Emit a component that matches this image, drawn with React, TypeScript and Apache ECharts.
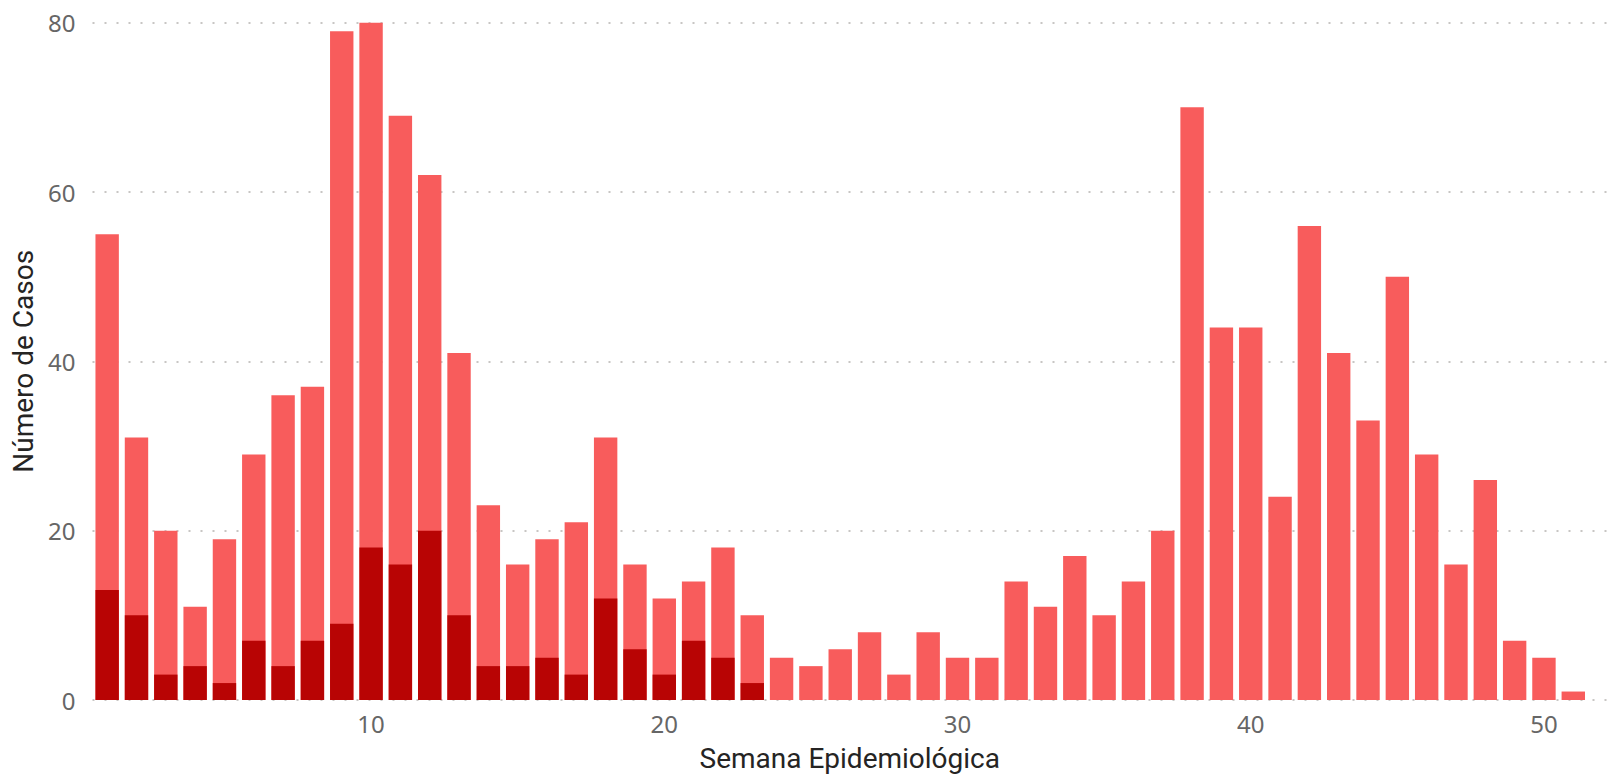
import React, { useEffect, useRef } from "react";
import * as echarts from "echarts";

const semanas: number[] = Array.from({ length: 51 }, (_, i) => i + 1);
const totalCasos: number[] = [
  55, 31, 20, 11, 19, 29, 36, 37, 79, 80,
  69, 62, 41, 23, 16, 19, 21, 31, 16, 12,
  14, 18, 10, 5, 4, 6, 8, 3, 8, 5,
  5, 14, 11, 17, 10, 14, 20, 70, 44, 44,
  24, 56, 41, 33, 50, 29, 16, 26, 7, 5,
  1,
];
const casosSubgrupo: number[] = [
  13, 10, 3, 4, 2, 7, 4, 7, 9, 18,
  16, 20, 10, 4, 4, 5, 3, 12, 6, 3,
  7, 5, 2, 0, 0, 0, 0, 0, 0, 0,
  0, 0, 0, 0, 0, 0, 0, 0, 0, 0,
  0, 0, 0, 0, 0, 0, 0, 0, 0, 0,
  0,
];
const xTickLabels: number[] = [10, 20, 30, 40, 50];

export default function App() {
  const ref = useRef<HTMLDivElement>(null);
  useEffect(() => {
    if (!ref.current) return;
    const chart = echarts.init(ref.current, null, { renderer: "svg" });
    const tickFont = "'Noto Sans', 'Open Sans', sans-serif";
    const titleFont = "Roboto, 'Noto Sans', sans-serif";
    chart.setOption({
      animation: false,
      backgroundColor: "#ffffff",
      grid: { left: 92.5, right: 1, top: 22.7, bottom: 74.6, containLabel: false },
      xAxis: {
        type: "value",
        min: 0.5,
        max: 52.15,
        name: "Semana Epidemiológica",
        nameLocation: "middle",
        nameGap: 44,
        nameTextStyle: { color: "#252423", fontSize: 28, fontFamily: titleFont },
        axisLine: { show: false },
        axisTick: { show: false },
        splitLine: { show: false },
        axisLabel: {
          customValues: xTickLabels,
          color: "#666666",
          fontSize: 24,
          fontFamily: tickFont,
          margin: 11,
        },
      },
      yAxis: {
        type: "value",
        min: 0,
        max: 80,
        interval: 20,
        name: "Número de Casos",
        nameLocation: "middle",
        nameGap: 52,
        nameTextStyle: { color: "#252423", fontSize: 28, fontFamily: titleFont },
        axisLine: { show: false },
        axisTick: { show: false },
        axisLabel: {
          color: "#666666",
          fontSize: 24,
          fontFamily: tickFont,
          margin: 17,
        },
        splitLine: {
          show: true,
          lineStyle: { color: "#c8c6c4", width: 2, type: [2, 10] },
        },
      },
      series: [
        {
          type: "bar",
          name: "Total",
          data: semanas.map((s, i) => [s, totalCasos[i]]),
          barWidth: 23.4,
          barGap: "-100%",
          itemStyle: { color: "#F85C5C" },
        },
        {
          type: "bar",
          name: "Subgrupo",
          data: semanas.map((s, i) => [s, casosSubgrupo[i]]),
          barWidth: 23.4,
          barGap: "-100%",
          itemStyle: { color: "#B80404" },
        },
      ],
    });
    return () => chart.dispose();
  }, []);
  return (
    <div
      ref={ref}
      style={{ position: "fixed", left: 0, top: 0, width: 1608, height: 777 }}
    />
  );
}
